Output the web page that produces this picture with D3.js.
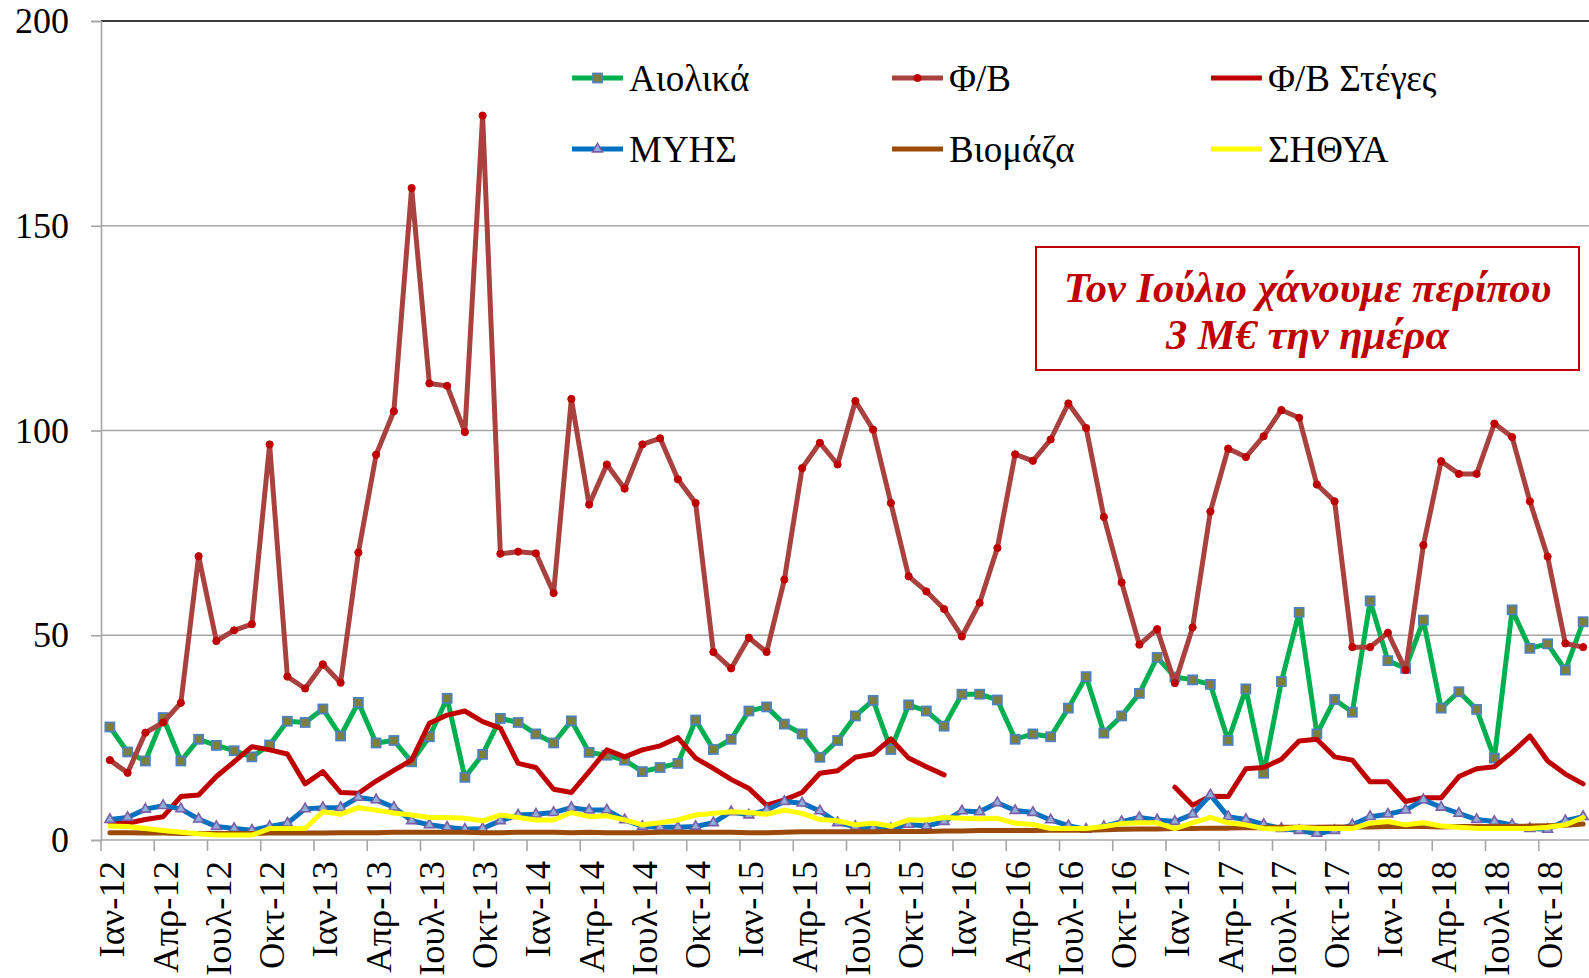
<!DOCTYPE html>
<html>
<head>
<meta charset="utf-8">
<script src="https://cdn.jsdelivr.net/npm/d3@7"></script>
<style>
  html, body { margin: 0; padding: 0; background: #fff; }
  svg { display: block; }
  text { font-family: "Liberation Serif", "Times New Roman", serif; }
</style>
</head>
<body>
<svg id="chart" width="1589" height="978"></svg>
<script>
// Monthly categories Jan 2012 – Dec 2018
const monthNames = ['Ιαν','Φεβ','Μαρ','Απρ','Μαϊ','Ιουν','Ιουλ','Αυγ','Σεπ','Οκτ','Νοε','Δεκ'];
const years = ['12','13','14','15','16','17','18'];
const categories = years.flatMap(y => monthNames.map(m => `${m}-${y}`));
const yTicks = [0, 50, 100, 150, 200];

// Series values
const aiolika = [27.6, 21.5, 19.3, 29.9, 19.3, 24.6, 23.1, 21.8, 20.3, 23.2, 29.0, 28.7, 32.0, 25.4, 33.6, 23.7, 24.3,
  19.1, 25.2, 34.6, 15.3, 20.9, 29.7, 28.7, 25.9, 23.7, 29.1, 21.4, 20.7, 19.5, 16.7, 17.7, 18.7,
  29.3, 22.1, 24.6, 31.5, 32.5, 28.3, 25.9, 20.2, 24.3, 30.3, 34.1, 22.1, 33.0, 31.5, 27.8, 35.6, 35.6,
  34.2, 24.6, 25.9, 25.2, 32.2, 39.9, 26.1, 30.3, 35.8, 44.6, 39.8, 39.1, 38.0, 24.3, 36.9, 16.3, 38.7,
  55.6, 25.9, 34.3, 31.2, 58.4, 43.8, 41.9, 53.7, 32.2, 36.2, 31.9, 20.0, 56.2, 46.8, 47.9, 41.5, 53.3];

const fb = [19.5, 16.4, 26.2, 28.7, 33.5, 69.3, 48.6, 51.2, 52.7, 96.6, 39.9, 37.0, 42.9, 38.4, 70.2,
  94.1, 104.7, 159.2, 111.5, 110.9, 99.6, 176.9, 69.9, 70.4, 70.0, 60.3, 107.7, 81.9, 91.7, 85.8,
  96.6, 98.1, 88.1, 82.3, 45.9, 41.9, 49.4, 45.9, 63.6, 90.8, 97.0, 91.7, 107.2, 100.2, 82.3,
  64.4, 60.7, 56.4, 49.7, 57.9, 71.3, 94.2, 92.6, 97.8, 106.6, 100.6, 78.9, 62.9, 47.7, 51.5,
  38.3, 51.9, 80.2, 95.6, 93.5, 98.6, 105.0, 103.1, 86.8, 82.7, 47.1, 47.1, 50.6, 41.5, 72.0,
  92.5, 89.4, 89.4, 101.7, 98.4, 82.7, 69.2, 48.0, 47.1];

const fbSteges = [4.5, 4.1, 5.0, 5.7, 10.6, 11.0, 15.5, 19.1, 22.8, 22.0, 21.0, 13.7, 16.7, 11.6, 11.4, 14.4, 17.0,
  19.5, 28.5, 30.5, 31.5, 28.9, 27.3, 18.7, 17.7, 12.4, 11.6, 16.7, 22.0, 20.3, 22.0, 23.0, 25.0,
  20.0, 17.5, 14.8, 12.6, 8.5, 9.8, 11.6, 16.3, 16.9, 20.2, 21.0, 24.7, 20.0, 17.9, 15.9,
  null, null, null, null, null, null, null, null, null, null, null, null,
  12.9, 8.5, 10.7, 10.6, 17.4, 17.7, 19.7, 24.2, 24.6, 20.3, 19.5, 14.2, 14.2, 9.4, 10.3, 10.3,
  15.5, 17.4, 17.9, 21.4, 25.4, 19.3, 16.1, 13.7];

const myhs = [5.0, 5.5, 7.5, 8.4, 7.6, 5.1, 3.3, 2.8, 2.4, 3.3, 4.1, 7.6, 7.9, 7.9, 10.4, 9.8, 8.0,
  4.7, 3.7, 3.1, 2.6, 2.8, 4.7, 6.1, 6.3, 6.7, 7.9, 7.3, 7.3, 4.9, 3.3, 3.1, 3.1,
  3.3, 4.2, 6.9, 6.1, 7.3, 9.4, 9.0, 7.1, 4.2, 3.3, 2.8, 2.8, 3.8, 3.4, 4.5, 7.1, 6.9,
  9.1, 7.2, 6.7, 4.9, 3.5, 2.6, 3.3, 4.5, 5.5, 4.9, 4.5, 6.3, 11.0, 5.7, 5.0, 3.8, 2.8,
  2.3, 1.6, 2.3, 3.7, 5.7, 6.3, 7.3, 9.8, 8.0, 6.5, 5.0, 4.5, 3.7, 2.8, 2.6, 4.7, 5.7];

const viomaza = [1.8, 1.8, 1.7, 1.7, 1.6, 1.6, 1.6, 1.6, 1.6, 1.7, 1.7, 1.7, 1.7, 1.8, 1.8, 1.8, 1.9,
  1.9, 1.9, 1.9, 1.9, 1.8, 1.8, 1.9, 1.9, 1.9, 1.8, 1.9, 1.8, 1.8, 1.8, 1.9, 1.9,
  1.9, 1.9, 1.9, 1.8, 1.8, 1.9, 2.0, 2.0, 2.0, 2.0, 2.0, 2.1, 2.1, 2.1, 2.2, 2.2, 2.3,
  2.3, 2.3, 2.3, 2.4, 2.4, 2.4, 2.5, 2.6, 2.7, 2.7, 2.8, 2.8, 2.9, 2.9, 3.0, 3.0, 3.1,
  3.1, 3.1, 3.2, 3.2, 3.2, 3.3, 3.3, 3.3, 3.2, 3.3, 3.3, 3.3, 3.3, 3.4, 3.5, 3.6, 3.9];

const sithya = [3.4, 3.3, 2.8, 2.3, 1.9, 1.5, 1.2, 1.2, 1.2, 2.8, 2.8, 2.8, 6.9, 6.3, 7.9, 7.3, 6.6,
  6.1, 5.5, 5.5, 5.3, 4.7, 6.1, 5.5, 4.9, 4.9, 6.7, 5.7, 5.9, 4.9, 3.7, 4.2, 4.9,
  6.1, 6.5, 6.9, 6.7, 6.3, 7.3, 6.5, 5.0, 4.7, 3.7, 4.1, 3.4, 4.9, 4.9, 5.5, 5.3, 5.2,
  5.3, 4.1, 3.8, 2.8, 2.8, 2.8, 3.3, 4.0, 4.2, 4.2, 2.8, 4.2, 5.5, 4.2, 3.7, 2.8, 2.7,
  3.1, 2.8, 2.8, 2.8, 4.1, 4.5, 3.7, 4.2, 3.4, 3.1, 2.8, 2.8, 2.8, 2.8, 3.1, 3.7, 5.5];

const seriesNames = ['Αιολικά', 'Φ/Β', 'Φ/Β Στέγες', 'ΜΥΗΣ', 'Βιομάζα', 'ΣΗΘΥΑ'];
const noteLines = ['Τον Ιούλιο χάνουμε περίπου', '3 Μ€ την ημέρα'];

const series = [
  { name: seriesNames[0], values: aiolika,  color: '#00b050', marker: 'square' },
  { name: seriesNames[1], values: fb,       color: '#a9423f', marker: 'circle' },
  { name: seriesNames[2], values: fbSteges, color: '#c00000', marker: null },
  { name: seriesNames[3], values: myhs,     color: '#0070c0', marker: 'triangle' },
  { name: seriesNames[4], values: viomaza,  color: '#9c4a0a', marker: null },
  { name: seriesNames[5], values: sithya,   color: '#ffff00', marker: null }
];

const svg = d3.select('#chart');
svg.append('rect').attr('width', 1589).attr('height', 978).attr('fill', '#fff');

const plot = { left: 101, right: 1592, top: 21, bottom: 840 };
const x = d3.scaleBand().domain(categories).range([plot.left, plot.right]).padding(0);
const y = d3.scaleLinear().domain([0, 200]).range([plot.bottom, plot.top]);
const cx = c => x(c) + x.bandwidth() / 2;

// Horizontal gridlines
svg.append('g').selectAll('line').data(yTicks.filter(t => t > 0)).join('line')
  .attr('x1', plot.left).attr('x2', 1589)
  .attr('y1', d => y(d)).attr('y2', d => y(d))
  .attr('stroke', d => d === 200 ? '#3a3a3a' : '#a6a6a6')
  .attr('stroke-width', d => d === 200 ? 2 : 1.6);

// Y axis
const yAxis = svg.append('g').attr('transform', `translate(${plot.left},0)`)
  .call(d3.axisLeft(y).tickValues(yTicks).tickSize(10).tickPadding(22).tickFormat(d3.format('d')));
yAxis.select('.domain').attr('stroke', '#a6a6a6').attr('stroke-width', 1.6);
yAxis.selectAll('.tick line').attr('stroke', '#a6a6a6').attr('stroke-width', 1.6);
yAxis.selectAll('.tick text').attr('font-size', 36).attr('fill', '#000')
  .attr('font-family', '"Liberation Serif", serif').attr('dy', '0.32em');

// X axis line and tick marks at every third month boundary
const quarterCats = categories.filter((c, i) => i % 3 === 0);
svg.append('line').attr('x1', plot.left).attr('x2', 1589)
  .attr('y1', plot.bottom).attr('y2', plot.bottom)
  .attr('stroke', '#a6a6a6').attr('stroke-width', 1.6);
svg.append('g').selectAll('line').data(quarterCats).join('line')
  .attr('x1', d => x(d)).attr('x2', d => x(d))
  .attr('y1', plot.bottom).attr('y2', plot.bottom + 11)
  .attr('stroke', '#a6a6a6').attr('stroke-width', 1.6);

// Rotated month labels
svg.append('g').selectAll('text').data(quarterCats).join('text')
  .attr('transform', d => `translate(${cx(d) + 2},${plot.bottom + 21}) rotate(-90)`)
  .attr('text-anchor', 'end')
  .attr('dominant-baseline', 'central')
  .attr('font-size', 36.5)
  .attr('fill', '#000')
  .text(d => d);

// Series lines
const line = d3.line()
  .defined(d => d.v != null)
  .x(d => cx(d.c))
  .y(d => y(d.v));

const seriesG = svg.append('g');
series.forEach(s => {
  const pts = s.values.map((v, i) => ({ c: categories[i], v }));
  const g = seriesG.append('g');
  g.append('path').datum(pts)
    .attr('d', line)
    .attr('fill', 'none')
    .attr('stroke', s.color)
    .attr('stroke-width', 5)
    .attr('stroke-linejoin', 'round')
    .attr('stroke-linecap', 'round');
  drawMarkers(g, pts.filter(p => p.v != null).map(p => [cx(p.c), y(p.v)]), s.marker);
});

function drawMarkers(g, coords, kind) {
  if (kind === 'square') {
    g.selectAll('rect.m').data(coords).join('rect').attr('class', 'm')
      .attr('x', d => d[0] - 4.5).attr('y', d => d[1] - 4.5)
      .attr('width', 9).attr('height', 9)
      .attr('fill', '#7f7f3c').attr('stroke', '#4f81bd').attr('stroke-width', 1.8);
  } else if (kind === 'circle') {
    g.selectAll('circle.m').data(coords).join('circle').attr('class', 'm')
      .attr('cx', d => d[0]).attr('cy', d => d[1]).attr('r', 3.6)
      .attr('fill', '#c00000').attr('stroke', '#c00000').attr('stroke-width', 1);
  } else if (kind === 'triangle') {
    const tri = d3.symbol().type(d3.symbolTriangle).size(42);
    g.selectAll('path.m').data(coords).join('path').attr('class', 'm')
      .attr('d', tri)
      .attr('transform', d => `translate(${d[0]},${d[1]})`)
      .attr('fill', '#8fb0d8').attr('stroke', '#7b5ea7').attr('stroke-width', 1.6);
  }
}

// Legend
const legendCols = [572, 892, 1211];
const legendRows = [78, 149];
series.forEach((s, i) => {
  const lx = legendCols[i % 3];
  const ly = legendRows[Math.floor(i / 3)];
  const g = svg.append('g');
  g.append('line').attr('x1', lx).attr('x2', lx + 51).attr('y1', ly).attr('y2', ly)
    .attr('stroke', s.color).attr('stroke-width', 5);
  drawMarkers(g, [[lx + 25.5, ly]], s.marker);
  g.append('text').attr('x', lx + 57).attr('y', ly)
    .attr('dominant-baseline', 'central')
    .attr('font-size', 37).attr('fill', '#000')
    .text(s.name);
});

// Annotation box
const note = svg.append('g');
note.append('rect').attr('x', 1036).attr('y', 247).attr('width', 543).attr('height', 123)
  .attr('fill', '#fff').attr('stroke', '#c00000').attr('stroke-width', 2);
note.selectAll('text').data(noteLines).join('text')
  .attr('x', 1036 + 543 / 2)
  .attr('y', (d, i) => 287 + i * 47)
  .attr('text-anchor', 'middle')
  .attr('dominant-baseline', 'central')
  .attr('font-size', 42.5)
  .attr('font-weight', 'bold')
  .attr('font-style', 'italic')
  .attr('fill', '#c00000')
  .text(d => d);
</script>
</body>
</html>
